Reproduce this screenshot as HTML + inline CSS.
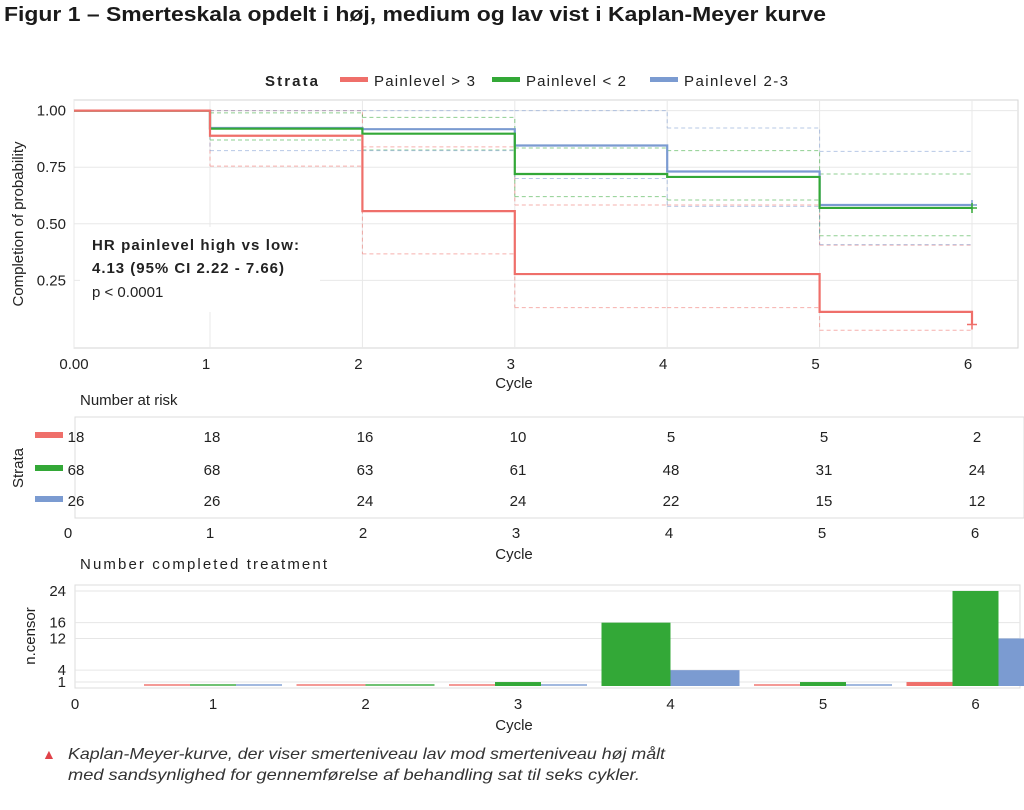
<!DOCTYPE html>
<html><head><meta charset="utf-8">
<style>
body{margin:0;background:#fff;width:1024px;height:805px;overflow:hidden;font-family:"Liberation Sans",sans-serif;}
svg text{font-family:"Liberation Sans",sans-serif;}
</style></head>
<body>
<svg id="chart" width="1024" height="805" viewBox="0 0 1024 805" xmlns="http://www.w3.org/2000/svg">
<text x="4" y="21" font-size="20" font-weight="bold" fill="#1a1a1a" textLength="822" lengthAdjust="spacingAndGlyphs">Figur 1 – Smerteskala opdelt i høj, medium og lav vist i Kaplan-Meyer kurve</text>
<g>
<text x="265" y="86" font-size="15" font-weight="bold" fill="#222" textLength="53">Strata</text>
<rect x="340" y="77" width="28" height="5" fill="#ef6f6a"/>
<text x="374" y="86" font-size="15" fill="#222" textLength="101">Painlevel &gt; 3</text>
<rect x="492" y="77" width="28" height="5" fill="#33a837"/>
<text x="526" y="86" font-size="15" fill="#222" textLength="100">Painlevel &lt; 2</text>
<rect x="650" y="77" width="28" height="5" fill="#7b9bd1"/>
<text x="684" y="86" font-size="15" fill="#222" textLength="104">Painlevel 2-3</text>
</g>
<g id="km"></g>
<g id="risk"></g>
<g id="bars"></g>
<text x="42" y="759" font-size="14" fill="#e0434a">▲</text>
<text x="68" y="759" font-size="16" font-style="italic" fill="#333" textLength="597" lengthAdjust="spacingAndGlyphs">Kaplan-Meyer-kurve, der viser smerteniveau lav mod smerteniveau høj målt</text>
<text x="68" y="780" font-size="16" font-style="italic" fill="#333" textLength="572" lengthAdjust="spacingAndGlyphs">med sandsynlighed for gennemførelse af behandling sat til seks cykler.</text>
</svg>
<script>
// ---- data ----
const times = [0,1,2,3,4,5,6];
const colors = ['#ef6f6a','#33a837','#7b9bd1'];
const seriesNames = ['high','low','medium'];
const survHigh = [1,0.889,0.556,0.278,0.278,0.111,0.055];
const survLow = [1,0.92,0.898,0.72,0.707,0.57,0.57];
const survMed = [1,0.923,0.918,0.846,0.731,0.583,0.583];
const upHigh = [1,1,0.84,0.583,0.583,0.406,0.406];
const loHigh = [1,0.755,0.367,0.13,0.13,0.03,0.03];
const upLow = [1,0.99,0.97,0.835,0.823,0.72,0.72];
const loLow = [1,0.87,0.826,0.62,0.605,0.447,0.447];
const upMed = [1,1,1,1,0.923,0.82,0.82];
const loMed = [1,0.823,0.823,0.70,0.577,0.408,0.408];
const kmYTicks = [0.25,0.5,0.75,1.0];
const kmYLabels = ['0.25','0.50','0.75','1.00'];
const kmXLabels = ['0.00','1','2','3','4','5','6'];
const riskHigh = [18,18,16,10,5,5,2];
const riskLow = [68,68,63,61,48,31,24];
const riskMed = [26,26,24,24,22,15,12];
const censorHigh = [0,0,0,0,0,1];
const censorLow = [0,0,1,16,1,24];
const censorMed = [0,0,0,4,0,12];
const censorPresentHigh = [1,1,1,0,1,1];
const censorPresentMed = [1,0,1,1,1,1];
const barCycles = [1,2,3,4,5,6];
const barYTicks = [1,4,12,16,24];
const NS='http://www.w3.org/2000/svg';
function mk(tag,attrs,parent,txt){const e=document.createElementNS(NS,tag);for(const k in attrs)e.setAttribute(k,attrs[k]);if(txt!==undefined)e.textContent=txt;parent.appendChild(e);return e;}
// ---- KM axes ----
const km=document.getElementById('km');
const kx=t=>t<1?74+t*136:210+(t-1)*152.4;
const ky=v=>337-v*226.4;
let r=mk('rect',{x:74,y:100,width:944,height:248,fill:'#fff',stroke:'#d6d6d6'},km);


for(let i=0;i<kmYTicks.length;i++){
 let g=mk('line',{x1:74,x2:1018,y1:ky(kmYTicks[i]),y2:ky(kmYTicks[i]),stroke:'#e8e8e8'},km);
 
 
 let t=mk('text',{x:66,y:ky(kmYTicks[i])+5,'font-size':15,'text-anchor':'end',fill:'#222'},km,kmYLabels[i]);
 
 
}
for(let i=0;i<times.length;i++){
 let g=mk('line',{x1:kx(times[i]),x2:kx(times[i]),y1:100,y2:348,stroke:'#e8e8e8'},km);
 
 
 let t=mk('text',{x:kx(times[i])+(i==0?0:-4),y:369,'font-size':15,'text-anchor':'middle',fill:'#222'},km,kmXLabels[i]);
 
 
}
let xt=mk('text',{x:514,y:388,'font-size':15,'text-anchor':'middle',fill:'#222'},km,'Cycle');


let yt=mk('text',{x:0,y:0,'font-size':15,'text-anchor':'middle',fill:'#222',transform:'translate(23,224) rotate(-90)'},km,'Completion of probability');


function stepPath(vals){let d='M'+kx(times[0])+','+ky(vals[0]);for(let i=1;i<times.length;i++){d+=' H'+kx(times[i])+' V'+ky(vals[i]);}return d;}
function ciPath(vals){let d='';for(let i=0;i<times.length-1;i++){d+='M'+kx(times[i])+','+ky(vals[i])+' H'+kx(times[i+1])+' ';if(i<times.length-2)d+='V'+ky(vals[i+1])+' ';}return d;}
const ups=[upHigh,upLow,upMed],los=[loHigh,loLow,loMed],survs=[survHigh,survLow,survMed];
for(let s=0;s<3;s++){
 let a=mk('path',{d:ciPath(ups[s]),fill:'none',stroke:colors[s],'stroke-width':1,'stroke-dasharray':'4,3',opacity:0.55},km);
 
 
 let b=mk('path',{d:ciPath(los[s]),fill:'none',stroke:colors[s],'stroke-width':1,'stroke-dasharray':'4,3',opacity:0.55},km);
 
 
}
for(let s=2;s>=0;s--){
 let p=mk('path',{d:stepPath(survs[s]),fill:'none',stroke:colors[s],'stroke-width':2.2},km);
 
 
 let last=survs[s][survs[s].length-1];
 let c=mk('path',{d:'M'+(kx(6)-5)+','+ky(last)+' h10 M'+kx(6)+','+(ky(last)-5)+' v10',stroke:colors[s],'stroke-width':1.5},km);
 
 
}
let box=mk('rect',{x:80,y:227,width:240,height:85,fill:'#fff'},km);


let h1=mk('text',{x:92,y:250,'font-size':15,'font-weight':'bold',fill:'#222',textLength:207},km,'HR painlevel high vs low:');


let h2=mk('text',{x:92,y:273,'font-size':15,'font-weight':'bold',fill:'#222',textLength:192},km,'4.13 (95% CI 2.22 - 7.66)');


let h3=mk('text',{x:92,y:297,'font-size':15,fill:'#222'},km,'p < 0.0001');


// ---- risk table ----
const rk=document.getElementById('risk');
const rx=c=>c===0?76:212+(c-1)*153;
let rt=mk('text',{x:80,y:405,'font-size':15,fill:'#222'},rk,'Number at risk');


let rp=mk('rect',{x:75,y:417,width:949,height:101,fill:'#fff',stroke:'#dcdcdc'},rk);


const risks=[riskHigh,riskLow,riskMed];const rowY=[436,469,500];
for(let s=0;s<3;s++){
 let sw=mk('rect',{x:35,y:rowY[s]-4,width:28,height:6,fill:colors[s]},rk);
 
 
 for(let i=0;i<times.length;i++){
  let t=mk('text',{x:rx(times[i]),y:rowY[s]+6,'font-size':15,'text-anchor':'middle',fill:'#222'},rk,String(risks[s][i]));
  
  
 }
}
for(let i=0;i<times.length;i++){
 let t=mk('text',{x:(times[i]===0?70:rx(times[i]))-2,y:538,'font-size':15,'text-anchor':'middle',fill:'#222'},rk,String(times[i]));
 
 
}
let rc=mk('text',{x:514,y:559,'font-size':15,'text-anchor':'middle',fill:'#222'},rk,'Cycle');


let rs=mk('text',{x:0,y:0,'font-size':15,'text-anchor':'middle',fill:'#222',transform:'translate(23,468) rotate(-90)'},rk,'Strata');


// ---- bars ----
const bg=document.getElementById('bars');
const bx=c=>213+(c-1)*152.5;
const by=v=>686-v*3.96;
let bt=mk('text',{x:80,y:569,'font-size':15,fill:'#222',textLength:247},bg,'Number completed treatment');


let bp=mk('rect',{x:75,y:585,width:945,height:103,fill:'#fff',stroke:'#dcdcdc'},bg);


for(let i=0;i<barYTicks.length;i++){
 let g=mk('line',{x1:75,x2:1020,y1:by(barYTicks[i]),y2:by(barYTicks[i]),stroke:'#e6e6e6'},bg);
 
 
 let t=mk('text',{x:66,y:by(barYTicks[i])+5,'font-size':15,'text-anchor':'end',fill:'#222'},bg,String(barYTicks[i]));
 
 
}
const cens=[censorHigh,censorLow,censorMed];
const present=[censorPresentHigh,barCycles.map(()=>1),censorPresentMed];
for(let i=0;i<barCycles.length;i++){
 const idx=[0,1,2].filter(s=>present[s][i]);
 const width=138/idx.length;
 let x0=bx(barCycles[i])-(width*idx.length)/2;
 idx.forEach((s,k)=>{
  const v=cens[s][i];
  const top=v>0?by(v):684;
  let b=mk('rect',{x:x0+k*width,y:top,width:width,height:Math.max(686-top,2),fill:colors[s],opacity:v>0?1:0.7},bg);
  
  
 });
}
const barXLabels=[0,1,2,3,4,5,6];
for(let i=0;i<barXLabels.length;i++){
 const c=barXLabels[i];
 let t=mk('text',{x:c===0?75:bx(c),y:709,'font-size':15,'text-anchor':'middle',fill:'#222'},bg,String(c));
 
 
}
let bc=mk('text',{x:514,y:730,'font-size':15,'text-anchor':'middle',fill:'#222'},bg,'Cycle');


let byt=mk('text',{x:0,y:0,'font-size':15,'text-anchor':'middle',fill:'#222',transform:'translate(35,636) rotate(-90)'},bg,'n.censor');


</script>
</body></html>
